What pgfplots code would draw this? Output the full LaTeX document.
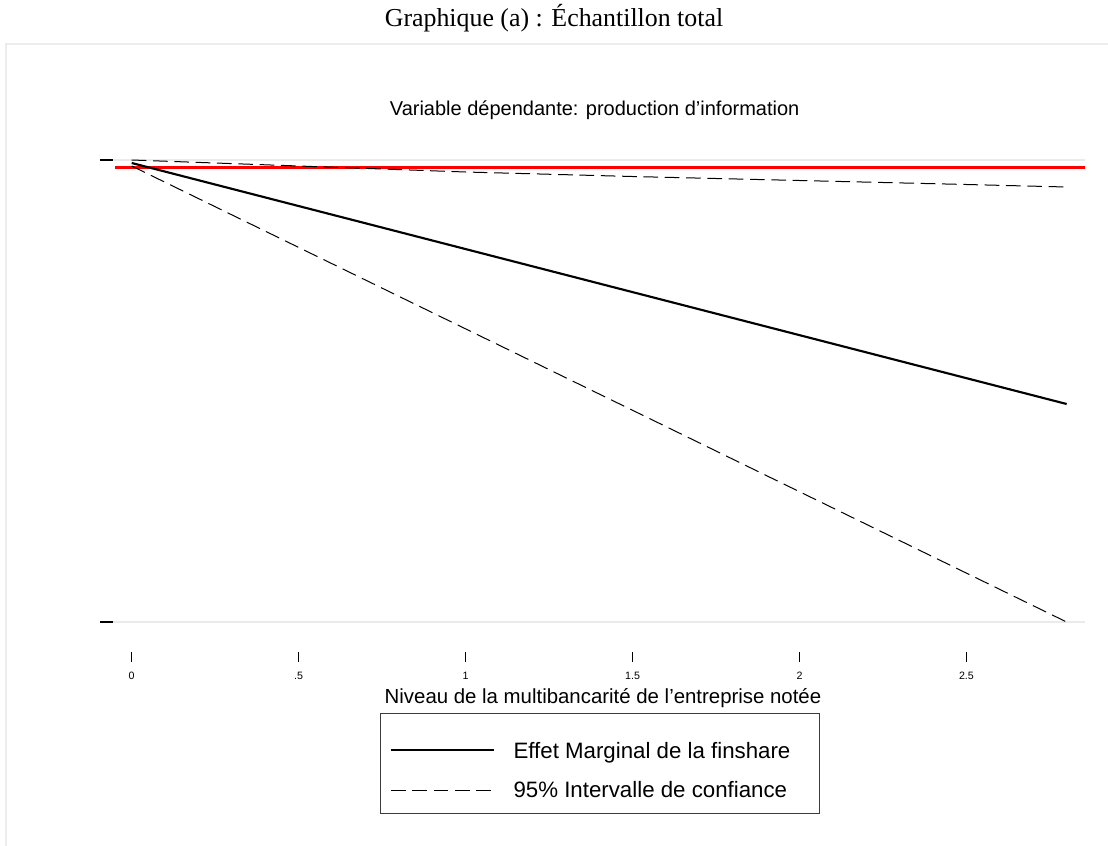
\documentclass[border=0pt]{standalone}
\usepackage{pgfplots}
\pgfplotsset{compat=1.18}
\usepackage{fontspec}
\setmainfont{Liberation Sans}
\newfontfamily\serif{Liberation Serif}
\definecolor{gridgray}{RGB}{234,234,234}
\definecolor{framegray}{RGB}{236,236,236}
\definecolor{legframe}{RGB}{60,60,60}
\pgfplotsset{
  legline/.style={legend image code/.code={\draw[##1] (0pt,0pt) -- (77pt,0pt); \path[draw=none,fill=none] (0pt,0pt) -- (90pt,0pt);}},
  leglinelow/.style={legend image code/.code={\draw[##1] (0pt,-4.5pt) -- (77pt,-4.5pt); \path[draw=none,fill=none] (0pt,0pt) -- (90pt,0pt);}},
}
\begin{document}
\begin{tikzpicture}
\path[use as bounding box] (0,0) rectangle (831pt,-634.5pt);
\draw[framegray, line width=1.5pt] (4.8pt,-640pt) -- (4.8pt,-33pt) -- (840pt,-33pt);
\node[font=\serif\fontsize{19.4}{22}\selectfont] at (415.5pt,-13.5pt) {Graphique (a) : Échantillon total};
\node[font=\fontsize{15}{18}\selectfont] at (446pt,-83pt) {Variable dépendante: production d'information};
\begin{axis}[
  at={(84.75pt,-489pt)}, anchor=south west,
  scale only axis, width=729pt, height=372.75pt,
  xmin=-0.056, xmax=2.855, ymin=-4.845, ymax=0.125,
  axis line style={draw=none},
  tick align=outside, xtick pos=bottom, ytick pos=left,
  xtick={0,0.5,1,1.5,2,2.5}, xticklabels={0,.5,1,1.5,2,2.5},
  ytick={-4.545,0.075}, yticklabels={},
  ymajorgrids, grid style={gridgray, line width=1.5pt},
  xtick style={black, line width=0.9pt, /pgfplots/major tick length=7.5pt},
  ytick style={black, line width=0.9pt, /pgfplots/major tick length=9.75pt},
  ticklabel style={font=\fontsize{8}{9}\selectfont},
  xticklabel style={yshift=-7pt},
  xlabel={Niveau de la multibancarité de l'entreprise notée},
  xlabel style={font=\fontsize{15.3}{18}\selectfont, xshift=3pt},
  legend style={at={(axis description cs:0.2747,-0.1227)}, anchor=north west,
    draw=legframe, line width=0.75pt, font=\fontsize{16.7}{20}\selectfont,
    row sep=12pt, inner xsep=7pt, inner ysep=8.5pt},
  legend cell align=left,
  legline,
]
\addplot[red, line width=2.2pt, forget plot] coordinates {(-0.05,0) (2.854,0)};
\addplot[black, line width=1.6pt, leglinelow] coordinates {(0,0.045)(0.7,-0.5575)(1.4,-1.16)(2.1,-1.7625)(2.8,-2.365)};
\addplot[black, line width=0.75pt, dash pattern=on 11pt off 5pt] coordinates {(0,0.015)(0.7,-1.125)(1.4,-2.265)(2.1,-3.405)(2.8,-4.545)};
\addplot[black, line width=0.75pt, dash pattern=on 11pt off 5pt, forget plot] coordinates {(0,0.075)(0.5,0.015)(1,-0.045)(1.5,-0.09)(2,-0.13)(2.5,-0.17)(2.8,-0.195)};
\legend{\rule{0pt}{23pt}Effet Marginal de la finshare\hspace*{13pt}, 95\% Intervalle de confiance\hspace*{13pt}}
\end{axis}
\end{tikzpicture}
\end{document}
